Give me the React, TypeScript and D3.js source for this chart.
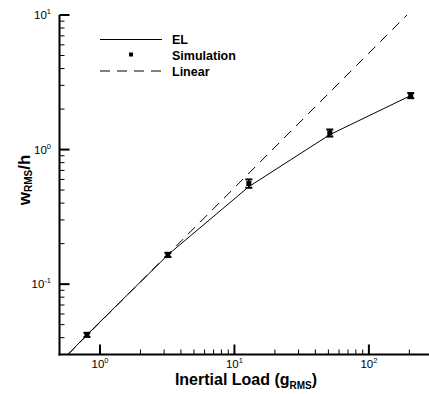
import React from "react";
import * as d3 from "d3";

// ---- data ----
const simLoad = [0.8, 3.2, 12.8, 51.2, 204.8];
const simW = [0.042, 0.165, 0.56, 1.33, 2.52];
const simErr = [0.0015, 0.006, 0.04, 0.08, 0.11];
const elLoad = [0.577, 0.8, 3.2, 12.8, 51.2, 204.8];
const elW = [0.03, 0.042, 0.165, 0.53, 1.29, 2.52];
const linearLoad = [0.577, 192];
const linearW = [0.03, 10];
const xTickExp = [0, 1, 2];
const yTickExp = [-1, 0, 1];
const legendLabels = ["EL", "Simulation", "Linear"];
const xTitle = ["Inertial Load (g", "RMS", ")"];
const yTitle = ["w", "RMS", "/h"];

const W = 429;
const H = 394;
const FONT = "'Liberation Sans', Arial, Helvetica, sans-serif";

export default function App() {
  const x = d3.scaleLog().domain([0.5, 280]).range([59.5, 429]);
  const y = d3.scaleLog().domain([0.03, 10]).range([354.5, 15]);

  const xMinor: number[] = [];
  [1, 10, 100].forEach((d) => {
    for (let m = 2; m <= 9; m++) {
      const v = d * m;
      if (v <= 280) xMinor.push(v);
    }
  });
  const yMinor: number[] = [];
  [0.01, 0.1, 1].forEach((d) => {
    for (let m = 2; m <= 9; m++) {
      const v = d * m;
      if (v >= 0.03 - 1e-9 && v <= 10) yMinor.push(v);
    }
  });

  const line = d3
    .line<number>()
    .x((_, i) => x(elLoad[i]))
    .y((d) => y(d));
  const linLine = d3
    .line<number>()
    .x((_, i) => x(linearLoad[i]))
    .y((d) => y(d));

  const x0 = x.range()[0];
  const y0 = y.range()[0];

  return (
    <svg
      width={W}
      height={H}
      style={{ position: "absolute", left: 0, top: 0, background: "#fff" }}
      fontFamily={FONT}
    >
      <rect width={W} height={H} fill="#fff" />
      {/* lines */}
      <path d={linLine(linearW) || ""} fill="none" stroke="#000" strokeWidth={1} strokeDasharray="10,7" />
      <path d={line(elW) || ""} fill="none" stroke="#000" strokeWidth={1} />

      {/* simulation points with error bars */}
      {simLoad.map((l, i) => {
        const cx = x(l);
        const cy = y(simW[i]);
        const yt = y(simW[i] + simErr[i]);
        const yb = y(simW[i] - simErr[i]);
        return (
          <g key={i}>
            <line x1={cx} x2={cx} y1={yt} y2={yb} stroke="#000" strokeWidth={1.5} />
            <line x1={cx - 3.5} x2={cx + 3.5} y1={yt} y2={yt} stroke="#000" strokeWidth={2} />
            <line x1={cx - 3.5} x2={cx + 3.5} y1={yb} y2={yb} stroke="#000" strokeWidth={2} />
            <rect x={cx - 2.5} y={cy - 2.5} width={5} height={5} fill="#000" />
          </g>
        );
      })}

      {/* axes */}
      <line x1={x0} x2={x0} y1={y.range()[1]} y2={y0 + 1} stroke="#000" strokeWidth={2} />
      <line x1={x0 - 1} x2={x.range()[1]} y1={y0} y2={y0} stroke="#000" strokeWidth={2} />

      {xMinor.map((v) => (
        <line key={"xm" + v} x1={x(v)} x2={x(v)} y1={y0} y2={y0 - 5} stroke="#000" strokeWidth={1} />
      ))}
      {yMinor.map((v) => (
        <line key={"ym" + v} x1={x0} x2={x0 + 5} y1={y(v)} y2={y(v)} stroke="#000" strokeWidth={1} />
      ))}
      {xTickExp.map((e) => (
        <g key={"xt" + e}>
          <line x1={x(10 ** e)} x2={x(10 ** e)} y1={y0} y2={y0 - 10} stroke="#000" strokeWidth={2} />
          <text x={x(10 ** e)} y={368} textAnchor="middle" fontSize={11.5} fill="#000">
            10
            <tspan fontSize={7.5} dy={-5}>
              {e}
            </tspan>
          </text>
        </g>
      ))}
      {yTickExp.map((e) => (
        <g key={"yt" + e}>
          <line x1={x0} x2={x0 + 10} y1={y(10 ** e)} y2={y(10 ** e)} stroke="#000" strokeWidth={2} />
          <text x={51} y={y(10 ** e) + 4} textAnchor="end" fontSize={11.5} fill="#000">
            10
            <tspan fontSize={7.5} dy={-5}>
              {e}
            </tspan>
          </text>
        </g>
      ))}

      {/* axis titles */}
      <text x={246} y={385} textAnchor="middle" fontSize={16} fontWeight="bold" fill="#000">
        {xTitle[0]}
        <tspan fontSize={10} dy={4}>
          {xTitle[1]}
        </tspan>
        <tspan dy={-4}>{xTitle[2]}</tspan>
      </text>
      <text
        transform="translate(30,180) rotate(-90)"
        textAnchor="middle"
        fontSize={17}
        fontWeight="bold"
        fill="#000"
      >
        {yTitle[0]}
        <tspan fontSize={10} dy={2}>
          {yTitle[1]}
        </tspan>
        <tspan dy={-2}>{yTitle[2]}</tspan>
      </text>

      {/* legend */}
      <g fontSize={12.5} fontWeight="bold" fill="#000">
        <line x1={100} x2={162} y1={39.5} y2={39.5} stroke="#000" strokeWidth={1} />
        <text x={172} y={44}>{legendLabels[0]}</text>
        <rect x={129} y={52.5} width={4} height={4} fill="#000" />
        <text x={172} y={59.5}>{legendLabels[1]}</text>
        <line x1={100} x2={162} y1={71} y2={71} stroke="#000" strokeWidth={1} strokeDasharray="10,7" />
        <text x={172} y={75.5}>{legendLabels[2]}</text>
      </g>
    </svg>
  );
}
